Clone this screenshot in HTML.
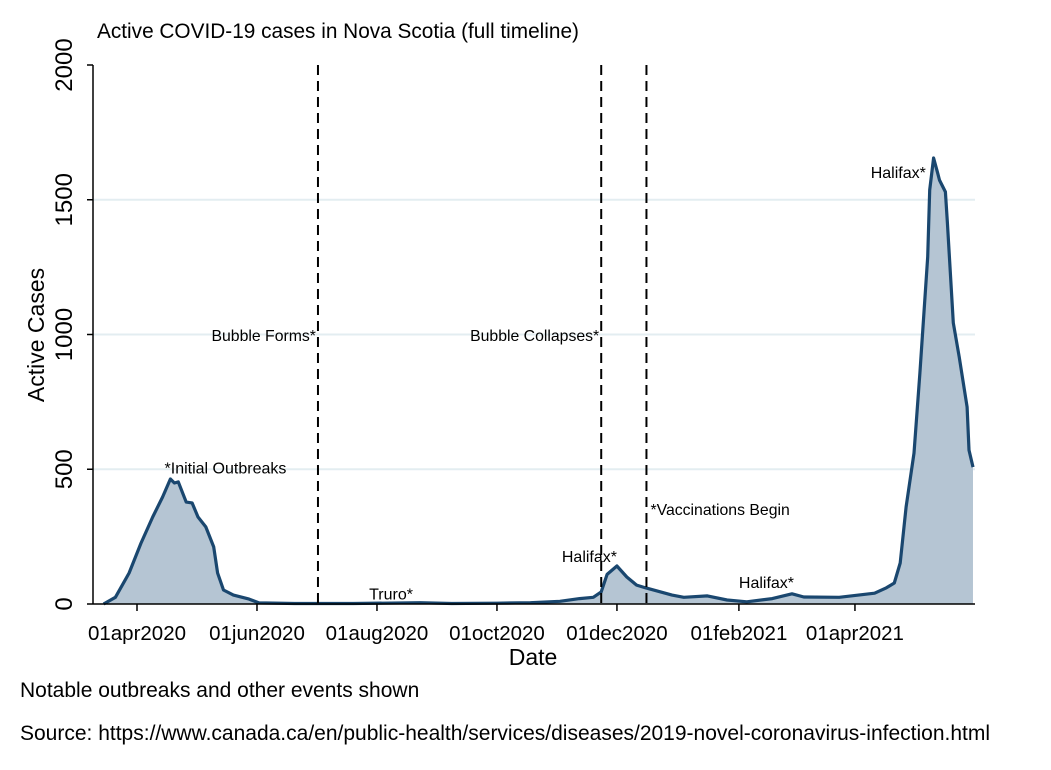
<!DOCTYPE html>
<html><head><meta charset="utf-8"><style>
body{margin:0;background:#fff;}
svg text{font-family:"Liberation Sans",Arial,sans-serif;}
</style></head><body>
<svg id="chart" width="1051" height="765" xmlns="http://www.w3.org/2000/svg">
<rect width="1051" height="765" fill="#fff"/>
<text x="97" y="38" font-size="20.8">Active COVID-19 cases in Nova Scotia (full timeline)</text>
<g id="grid"></g>
<g id="area"></g>
<g id="axes"></g>
<g id="events"></g>
<text transform="translate(44,335) rotate(-90)" text-anchor="middle" font-size="23">Active Cases</text>
<text x="533" y="665" text-anchor="middle" font-size="23">Date</text>
<text x="20" y="697" font-size="21">Notable outbreaks and other events shown</text>
<text x="20" y="740" font-size="21">Source: https://www.canada.ca/en/public-health/services/diseases/2019-novel-coronavirus-infection.html</text>
</svg>
<script>
// days since 01apr2020
const dayIndex=[-17,-11,-4,2,8,13,17,19,21,25,28,31,35,39,41,44,49,57,62,80,110,144,160,183,200,215,225,232,236,239,244,249,254,259,272,278,290,300,310,323,333,339,357,375,381,385,388,391,395,398,402,403,405,407,408,411,412,415,418,422,423,425];
const activeCases=[0,25,115,225,323,397,464,449,453,378,375,323,286,212,115,52,33,18,4,2,2,5,2,3,5,10,20,25,45,110,141,100,70,59,33,25,30,15,8,20,38,26,25,40,60,78,152,360,560,857,1288,1536,1655,1600,1573,1529,1414,1043,917,731,571,508];
const yTicks=[0,500,1000,1500,2000];
const xTickDays=[0,61,122,183,244,306,365];
const xTickLabels=["01apr2020","01jun2020","01aug2020","01oct2020","01dec2020","01feb2021","01apr2021"];
const eventDays=[92,236,259];
const eventLabels=["Bubble Forms*","Bubble Collapses*","*Vaccinations Begin"];
const eventLabelValues=[995,995,348];
const annotations=["*Initial Outbreaks","Truro*","Halifax*","Halifax*","Halifax*"];
const annotationDays=[14,118,216,306,373];
const annotationValues=[503,35,175,78,1600];

const NS="http://www.w3.org/2000/svg";
const X=d=>137+d*1.967;
const Y=v=>604-v*0.2695;
function mk(tag,attrs,parent,text){const e=document.createElementNS(NS,tag);for(const k in attrs)e.setAttribute(k,attrs[k]);if(text!==undefined)e.textContent=text;parent.appendChild(e);return e;}
const grid=document.getElementById('grid'),area=document.getElementById('area'),axes=document.getElementById('axes'),ev=document.getElementById('events');
yTicks.forEach(t=>{
  if(t>0&&t<2000){const g=mk('line',{x1:93,x2:975,y1:Y(t),y2:Y(t),stroke:'#e3edf1','stroke-width':2},grid);
  
  }
  const tk=mk('line',{x1:87,x2:93,y1:Y(t),y2:Y(t),stroke:'#000','stroke-width':1.5},axes);
  
  
  const tl=mk('text',{transform:`translate(72,${Y(t)}) rotate(-90)`,'text-anchor':'middle','font-size':24},axes,String(t));
  
  
});
let pts=dayIndex.map((d,i)=>X(d).toFixed(1)+','+Y(activeCases[i]).toFixed(1));
const fill=mk('polygon',{points:X(dayIndex[0])+','+Y(0)+' '+pts.join(' ')+' '+X(dayIndex[dayIndex.length-1])+','+Y(0),fill:'#b5c5d3'},area);


const line=mk('polyline',{points:pts.join(' '),fill:'none',stroke:'#1a476f','stroke-width':3.2,'stroke-linejoin':'round'},area);


const ya=mk('line',{x1:93,x2:93,y1:65,y2:604,stroke:'#000','stroke-width':1.5},axes);


const xa=mk('line',{x1:93,x2:975,y1:604,y2:604,stroke:'#000','stroke-width':1.5},axes);


xTickDays.forEach((d,i)=>{
  const tk=mk('line',{x1:X(d),x2:X(d),y1:604,y2:611,stroke:'#000','stroke-width':1.5},axes);
  
  
  const tl=mk('text',{x:X(d),y:640,'text-anchor':'middle','font-size':20.5},axes,xTickLabels[i]);
  
  
});
eventDays.forEach((d,i)=>{
  const l=mk('line',{x1:X(d),x2:X(d),y1:65,y2:604,stroke:'#000','stroke-width':2,'stroke-dasharray':'10,6'},ev);
  
  
  const right=i<2;
  const t=mk('text',{x:right?X(d)-2:X(d)+4,y:Y(eventLabelValues[i])+5,'text-anchor':right?'end':'start','font-size':15.8},ev,eventLabels[i]);
  
  
});
annotations.forEach((a,i)=>{
  const t=mk('text',{x:X(annotationDays[i]),y:Y(annotationValues[i])+5,'text-anchor':'start','font-size':16},ev,a);
  
  
});
</script>
</body></html>
